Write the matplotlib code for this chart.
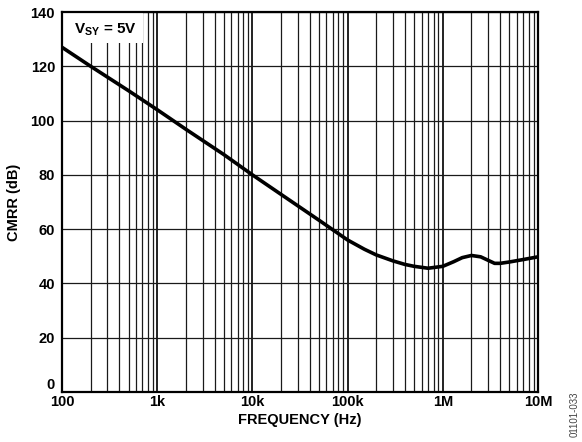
import matplotlib
matplotlib.use("Agg")
import matplotlib.pyplot as plt
from matplotlib.ticker import LogLocator, FixedLocator, NullFormatter
from matplotlib.patches import Rectangle

plt.rcParams['font.family'] = ['Liberation Sans', 'DejaVu Sans']
plt.rcParams['mathtext.fontset'] = 'custom'
plt.rcParams['mathtext.rm'] = 'Liberation Sans'
plt.rcParams['mathtext.bf'] = 'Liberation Sans:bold'

freq = [100, 200, 500, 1e3, 2e3, 5e3, 1e4, 2e4, 5e4, 1e5, 1.5e5, 2e5, 3e5, 4e5,
        5e5, 7e5, 1e6, 1.3e6, 1.6e6, 2e6, 2.5e6, 3e6, 3.5e6, 4e6, 5e6, 7e6, 1e7]
cmrr = [127, 120, 111, 104, 96.8, 87.5, 80, 72.8, 63.3, 56, 52.6, 50.5, 48.3, 47.0,
        46.3, 45.6, 46.3, 48.0, 49.5, 50.3, 49.8, 48.5, 47.4, 47.4, 47.9, 48.8, 49.8]

xticks = [100, 1e3, 1e4, 1e5, 1e6, 1e7]
xticklabels = ['100', '1k', '10k', '100k', '1M', '10M']
yticks = [0, 20, 40, 60, 80, 100, 120, 140]

fig = plt.figure(figsize=(5.82, 4.42), dpi=100)
ax = fig.add_axes([62/582, 50/442, 476/582, 380/442])

ax.plot(freq, cmrr, color='black', lw=2.6, zorder=3, solid_capstyle='butt')
ax.set_xscale('log')
ax.set_xlim(100, 1e7)
ax.set_ylim(0, 140)

ax.xaxis.set_major_locator(FixedLocator(xticks))
ax.set_xticklabels(xticklabels)
ax.xaxis.set_minor_locator(LogLocator(base=10, subs=range(2, 10), numticks=100))
ax.xaxis.set_minor_formatter(NullFormatter())
ax.set_yticks(yticks)

ax.grid(True, which='major', axis='x', color='#111111', lw=1.3)
ax.grid(True, which='minor', axis='x', color='#1a1a1a', lw=0.9)
ax.grid(True, which='major', axis='y', color='#1a1a1a', lw=0.9)
ax.tick_params(which='both', length=0)
ax.tick_params(axis='x', pad=2)
ax.tick_params(axis='y', pad=5)
for lab in ax.get_xticklabels() + ax.get_yticklabels():
    lab.set_fontweight('bold')
    lab.set_fontsize(10.5)
ax.get_yticklabels()[0].set_verticalalignment('bottom')
for s in ax.spines.values():
    s.set_linewidth(1.6)

ax.set_xlabel('FREQUENCY (Hz)', fontsize=10.5, fontweight='bold', labelpad=3)
ax.set_ylabel('CMRR (dB)', fontsize=10.5, fontweight='bold', labelpad=7)

ax.add_patch(Rectangle((0, 0.918), 0.17, 0.082, transform=ax.transAxes,
                       facecolor='white', edgecolor='none', zorder=2.5))
ax.text(0.025, 0.953, r'$\mathbf{V}_{\mathbf{SY}}$' + ' = 5V', transform=ax.transAxes,
        fontsize=11, fontweight='bold', va='center', ha='left', zorder=4)

fig.text(575/582, 1 - 414/442, '01101-033', rotation=90, fontsize=7, color='#444444',
         ha='center', va='center')

fig.savefig('out.png', dpi=100)
